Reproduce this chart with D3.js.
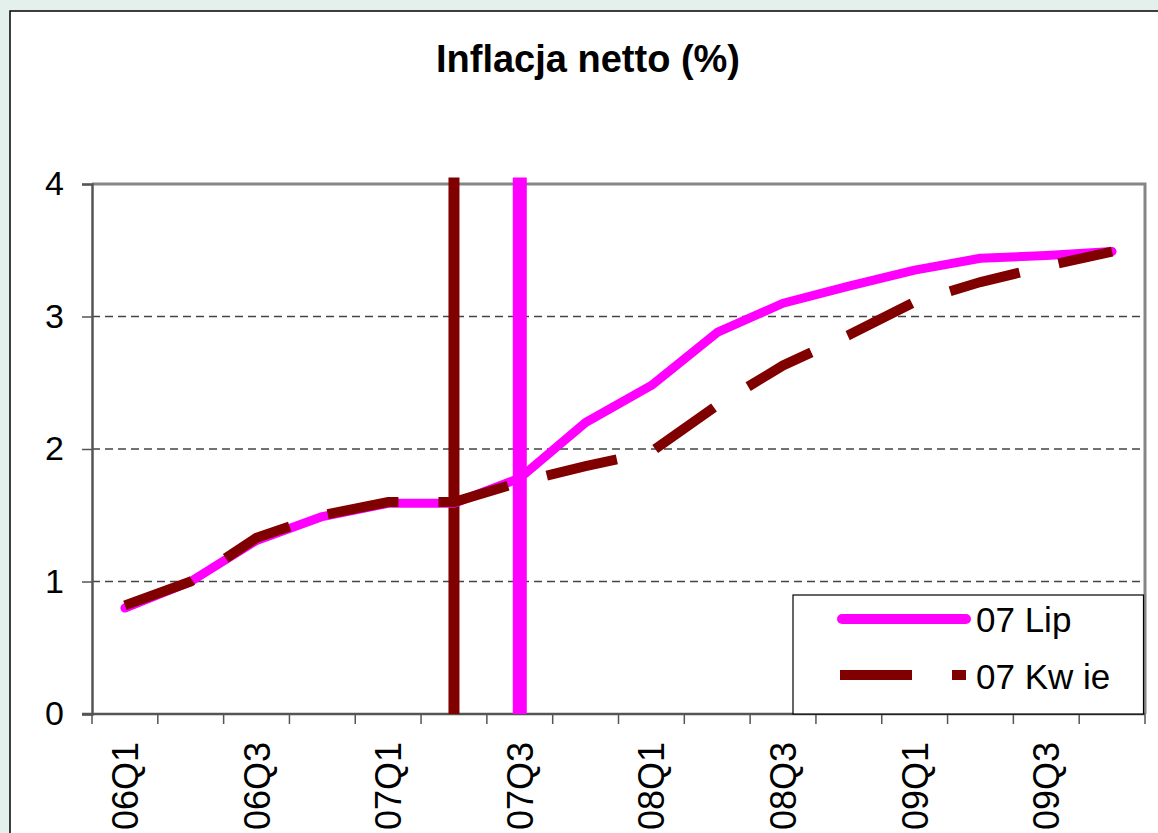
<!DOCTYPE html>
<html>
<head>
<meta charset="utf-8">
<script src="https://cdn.jsdelivr.net/npm/d3@7"></script>
<style>
  body { margin: 0; background: #e4f0eb; }
  svg { display: block; font-family: Arial, 'Liberation Sans', sans-serif; }
</style>
</head>
<body>
<div id="chart"></div>
<script>
// Inflacja netto (%) — two forecast vintages, quarterly 2006-2009

const categories = ['06Q1', '06Q2', '06Q3', '06Q4', '07Q1', '07Q2', '07Q3', '07Q4',
  '08Q1', '08Q2', '08Q3', '08Q4', '09Q1', '09Q2', '09Q3', '09Q4'];
const labelledCategories = ['06Q1', '06Q3', '07Q1', '07Q3', '08Q1', '08Q3', '09Q1', '09Q3'];
const lipValues = [0.80, 1.00, 1.31, 1.49, 1.59, 1.59, 1.78, 2.20, 2.48, 2.88, 3.10, 3.23, 3.35, 3.44, 3.46, 3.49];
const kwieValues = [0.82, 1.00, 1.33, 1.50, 1.60, 1.60, 1.75, 1.87, 1.98, 2.33, 2.63, 2.86, 3.11, 3.26, 3.38, 3.49];
const seriesNames = ['07 Lip', '07 Kw ie'];
const yTicks = [0, 1, 2, 3, 4];
const gridTicks = [1, 2, 3];
// vertical markers: last observed quarter of each vintage
const markerCategories = ['07Q2', '07Q3'];
const markerTop = 4.05;

const W = 1158, H = 833;
const plot = { left: 92, top: 184, right: 1145, bottom: 714 };
const colLip = '#ff00ff', colKwie = '#800000';

const svg = d3.select('#chart').append('svg')
  .attr('width', W).attr('height', H);

// outer chart frame
svg.append('rect')
  .attr('x', 10).attr('y', 11).attr('width', W + 10).attr('height', H + 10)
  .attr('fill', '#fff').attr('stroke', '#000').attr('stroke-width', 1.5);

// Title
svg.append('text')
  .attr('x', 588).attr('y', 72).attr('text-anchor', 'middle')
  .attr('font-size', '38px').attr('font-weight', 'bold').attr('fill', '#000')
  .text('Inflacja netto (%)');

// Scales
const x = d3.scaleBand().domain(categories).range([plot.left, plot.right]).padding(0);
const cx = c => x(c) + x.bandwidth() / 2;
const y = d3.scaleLinear().domain([0, 4]).range([plot.bottom, plot.top]);

// Grid
svg.append('g')
  .selectAll('line').data(gridTicks).join('line')
  .attr('x1', plot.left).attr('x2', plot.right)
  .attr('y1', d => y(d)).attr('y2', d => y(d))
  .attr('stroke', '#444').attr('stroke-width', 1.3).attr('stroke-dasharray', '8,5');

// plot border (top/right)
svg.append('path')
  .attr('d', `M${plot.left},${y(4)}H${plot.right}V${y(0)}`)
  .attr('fill', 'none').attr('stroke', '#858585').attr('stroke-width', 3);

// Y axis
const yAxis = svg.append('g')
  .attr('transform', `translate(${plot.left},0)`)
  .call(d3.axisLeft(y).tickValues(yTicks).tickSize(10).tickPadding(18).tickFormat(d3.format('d')));
yAxis.select('.domain').attr('stroke', '#555').attr('stroke-width', 2.5);
yAxis.selectAll('.tick line').attr('stroke', '#555').attr('stroke-width', 1.5);
yAxis.selectAll('text').attr('font-size', '34px').attr('fill', '#000').attr('font-family', null);

// X axis: ticks at category boundaries, labels at centres
const boundaries = categories.map(c => x(c)).concat([plot.right]);
const xAxis = svg.append('g');
xAxis.append('line')
  .attr('x1', plot.left - 10).attr('x2', plot.right)
  .attr('y1', y(0)).attr('y2', y(0))
  .attr('stroke', '#555').attr('stroke-width', 2.5);
xAxis.selectAll('line.tk').data(boundaries).join('line').attr('class', 'tk')
  .attr('x1', d => d).attr('x2', d => d)
  .attr('y1', y(0)).attr('y2', y(0) + 10)
  .attr('stroke', '#555').attr('stroke-width', 1.5);
xAxis.selectAll('text').data(labelledCategories).join('text')
  .attr('transform', d => `translate(${cx(d)},742) rotate(-90)`)
  .attr('text-anchor', 'end').attr('dy', '0.36em')
  .attr('font-size', '36px').attr('fill', '#000')
  .text(d => d);

// Vertical markers
svg.append('line')
  .attr('x1', cx(markerCategories[0])).attr('x2', cx(markerCategories[0]))
  .attr('y1', y(0)).attr('y2', y(markerTop))
  .attr('stroke', colKwie).attr('stroke-width', 11);
svg.append('line')
  .attr('x1', cx(markerCategories[1])).attr('x2', cx(markerCategories[1]))
  .attr('y1', y(0)).attr('y2', y(markerTop))
  .attr('stroke', colLip).attr('stroke-width', 14);

// Series
const line = d3.line().x((d, i) => cx(categories[i])).y(d => y(d));
svg.append('path').datum(lipValues)
  .attr('d', line).attr('fill', 'none')
  .attr('stroke', colLip).attr('stroke-width', 9)
  .attr('stroke-linecap', 'round').attr('stroke-linejoin', 'round');
svg.append('path').datum(kwieValues)
  .attr('d', line).attr('fill', 'none')
  .attr('stroke', colKwie).attr('stroke-width', 10)
  .attr('stroke-dasharray', '72,40').attr('stroke-linejoin', 'miter');

// Legend
const legend = svg.append('g');
legend.append('rect')
  .attr('x', 793).attr('y', 595).attr('width', plot.right - 793 - 1.5).attr('height', y(0) - 595)
  .attr('fill', '#fff').attr('stroke', '#000').attr('stroke-width', 1.2);
legend.append('line')
  .attr('x1', 842).attr('x2', 966).attr('y1', 619).attr('y2', 619)
  .attr('stroke', colLip).attr('stroke-width', 10).attr('stroke-linecap', 'round');
legend.append('line')
  .attr('x1', 840).attr('x2', 966).attr('y1', 675).attr('y2', 675)
  .attr('stroke', colKwie).attr('stroke-width', 10).attr('stroke-dasharray', '72,40');
legend.selectAll('text').data(seriesNames).join('text')
  .attr('x', 976).attr('y', (d, i) => 632 + i * 57)
  .attr('font-size', '35px').attr('fill', '#000')
  .text(d => d);
</script>
</body>
</html>
